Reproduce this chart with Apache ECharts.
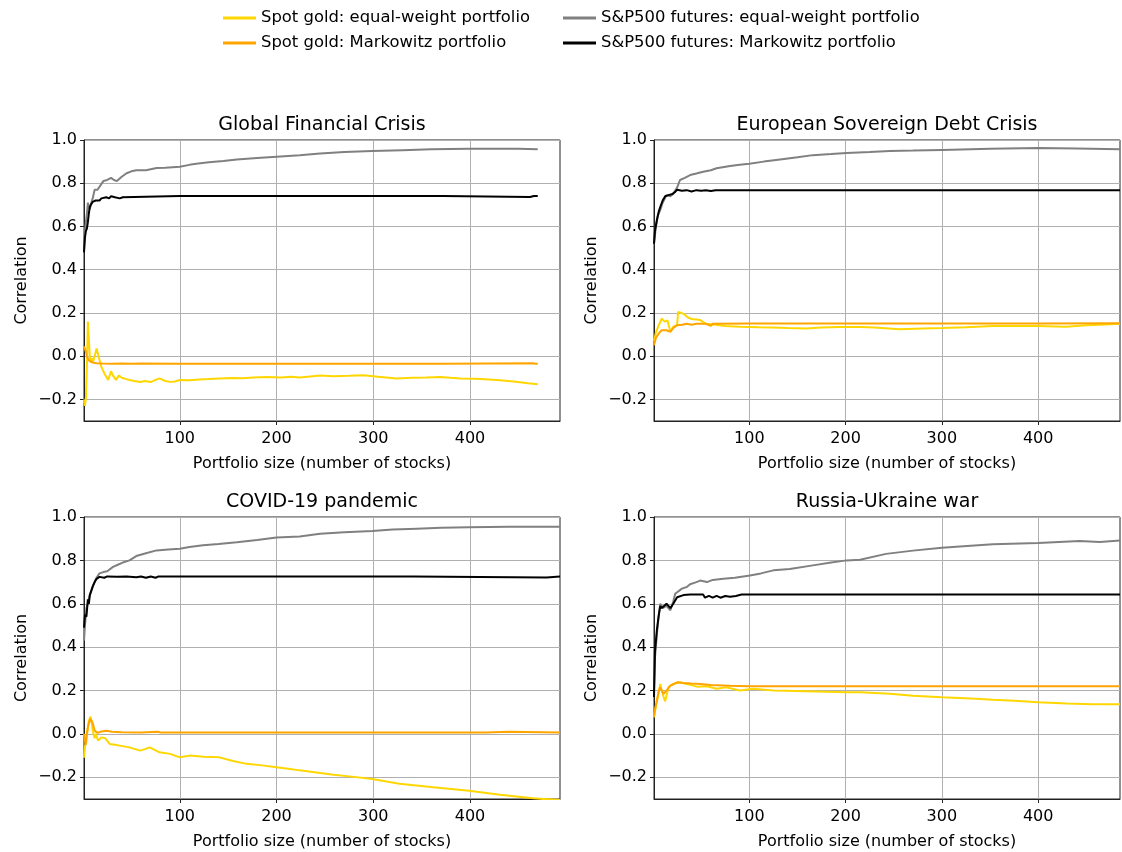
<!DOCTYPE html>
<html>
<head>
<meta charset="utf-8">
<script src="https://cdn.jsdelivr.net/npm/echarts@6/dist/echarts.min.js"></script>
<style>
html,body{margin:0;padding:0;background:#fff;}
#chart{width:1122px;height:852px;}
</style>
</head>
<body>
<div id="chart"></div>
<script>
// ---------- labels ----------
const panelTitles = ['Global Financial Crisis', 'European Sovereign Debt Crisis', 'COVID-19 pandemic', 'Russia-Ukraine war'];
const seriesNames = ['Spot gold: equal-weight portfolio', 'Spot gold: Markowitz portfolio', 'S&P500 futures: equal-weight portfolio', 'S&P500 futures: Markowitz portfolio'];
const seriesColors = ['#FFD700', '#FFA500', '#808080', '#000000'];
const xTicks = [100, 200, 300, 400];
const yTicks = [-0.2, 0.0, 0.2, 0.4, 0.6, 0.8, 1.0];
const xLabel = 'Portfolio size (number of stocks)';
const yLabel = 'Correlation';

// ---------- Global Financial Crisis ----------
const gfcGoldEW = [[1,-0.2],[2,-0.23],[3,-0.19],[4,-0.05],[5,0.16],[6,0.08],[7,0.0],[8,-0.03],[9,-0.01],[10,-0.03],[12,0.0],[14,0.035],[16,0.0],[19,-0.05],[22,-0.08],[26,-0.11],[29,-0.07],[31,-0.09],[34,-0.11],[37,-0.09],[40,-0.1],[44,-0.105],[48,-0.11],[53,-0.115],[59,-0.12],[64,-0.115],[70,-0.12],[75,-0.11],[79,-0.103],[85,-0.115],[90,-0.119],[95,-0.117],[100,-0.11],[110,-0.112],[120,-0.108],[130,-0.106],[141,-0.103],[155,-0.101],[165,-0.102],[176,-0.099],[190,-0.097],[205,-0.099],[215,-0.095],[224,-0.099],[235,-0.094],[245,-0.09],[259,-0.093],[275,-0.091],[290,-0.088],[305,-0.095],[324,-0.103],[340,-0.1],[355,-0.099],[369,-0.096],[380,-0.1],[390,-0.103],[405,-0.104],[420,-0.108],[431,-0.111],[445,-0.117],[460,-0.125],[470,-0.13]];
const gfcGoldMV = [[1,0.045],[2,0.04],[3,0.02],[4,0.0],[5,-0.01],[6,-0.02],[8,-0.026],[10,-0.03],[14,-0.033],[20,-0.034],[30,-0.035],[40,-0.034],[50,-0.035],[60,-0.034],[100,-0.035],[200,-0.035],[300,-0.035],[373,-0.035],[375,-0.033],[465,-0.033],[468,-0.035],[470,-0.035]];
const gfcSpEW = [[1,0.5],[2,0.58],[3,0.62],[4,0.66],[5,0.71],[6,0.69],[7,0.68],[8,0.7],[10,0.73],[12,0.77],[15,0.77],[18,0.79],[21,0.81],[25,0.815],[29,0.825],[32,0.815],[35,0.81],[40,0.83],[45,0.846],[50,0.855],[55,0.86],[65,0.86],[70,0.865],[76,0.87],[85,0.872],[100,0.876],[110,0.885],[117,0.89],[130,0.897],[145,0.903],[159,0.91],[180,0.917],[200,0.923],[224,0.93],[245,0.938],[270,0.944],[299,0.949],[330,0.953],[360,0.957],[399,0.96],[430,0.96],[450,0.959],[470,0.957]];
const gfcSpMV = [[1,0.48],[2,0.55],[3,0.58],[4,0.59],[5,0.62],[6,0.66],[7,0.69],[8,0.7],[10,0.714],[13,0.72],[17,0.72],[19,0.73],[21,0.728],[24,0.735],[27,0.73],[29,0.74],[33,0.735],[38,0.73],[41,0.735],[43,0.741],[100,0.741],[200,0.741],[300,0.741],[372,0.741],[374,0.736],[462,0.736],[466,0.741],[470,0.741]];

// ---------- European Sovereign Debt Crisis ----------
const esdcGoldEW = [[1,0.07],[3,0.11],[6,0.143],[9,0.174],[12,0.16],[15,0.165],[17,0.13],[18,0.113],[21,0.136],[25,0.143],[26,0.205],[29,0.2],[32,0.195],[36,0.18],[40,0.172],[45,0.17],[49,0.167],[55,0.15],[65,0.145],[75,0.14],[90,0.136],[110,0.134],[124,0.133],[140,0.13],[159,0.128],[175,0.132],[194,0.135],[215,0.135],[230,0.132],[256,0.125],[280,0.128],[300,0.13],[325,0.134],[353,0.14],[380,0.14],[400,0.14],[429,0.136],[450,0.143],[470,0.147],[485,0.15]];
const esdcGoldMV = [[1,0.05],[3,0.085],[6,0.105],[9,0.12],[11,0.125],[14,0.12],[18,0.113],[21,0.13],[25,0.143],[30,0.145],[35,0.15],[40,0.145],[45,0.15],[55,0.15],[60,0.14],[62,0.15],[100,0.151],[200,0.151],[300,0.151],[400,0.151],[485,0.152]];
const esdcSpEW = [[1,0.52],[3,0.6],[5,0.65],[7.5,0.676],[10,0.71],[14,0.745],[18,0.74],[21,0.75],[25,0.78],[28,0.815],[33,0.825],[38.5,0.838],[45,0.845],[52,0.853],[60,0.86],[66,0.869],[80,0.88],[90,0.885],[100,0.89],[115,0.9],[132,0.91],[150,0.92],[166,0.93],[185,0.935],[201,0.94],[225,0.944],[246,0.949],[270,0.951],[300,0.954],[350,0.959],[400,0.963],[440,0.961],[485,0.957]];
const esdcSpMV = [[1,0.52],[2,0.58],[4,0.63],[6,0.67],[7.5,0.69],[10,0.72],[12.6,0.74],[16,0.745],[20,0.75],[23,0.76],[25,0.77],[30,0.765],[35,0.768],[40,0.762],[45,0.768],[50,0.765],[55,0.768],[60,0.764],[65,0.768],[485,0.768]];

// ---------- COVID-19 pandemic ----------
const covGoldEW = [[1,-0.11],[2,-0.06],[3.5,-0.015],[5,0.03],[6,0.06],[7.6,0.08],[9,0.05],[10,0.015],[12,-0.02],[13,0.0],[15.5,-0.03],[19,-0.016],[23,-0.02],[27.6,-0.046],[33,-0.05],[38,-0.054],[48,-0.062],[59,-0.077],[64,-0.07],[69,-0.062],[79,-0.085],[90,-0.092],[100,-0.108],[110,-0.1],[125,-0.105],[141,-0.108],[155,-0.125],[169,-0.138],[185,-0.145],[200,-0.154],[214,-0.162],[224,-0.168],[245,-0.18],[259,-0.188],[280,-0.198],[299,-0.208],[327,-0.23],[362,-0.246],[399,-0.262],[431,-0.28],[465,-0.297],[493,-0.305]];
const covGoldMV = [[1,0.0],[2,-0.03],[3,-0.05],[4,0.0],[5,0.03],[6,0.05],[7.6,0.07],[9,0.077],[10,0.05],[12,0.015],[15,0.005],[18,0.01],[24,0.015],[30,0.01],[40,0.008],[60,0.007],[77,0.01],[80,0.007],[200,0.006],[300,0.006],[416,0.006],[418,0.01],[440,0.01],[442,0.006],[493,0.006]];
const covSpEW = [[1,0.43],[2,0.5],[3.5,0.58],[5,0.6],[7,0.64],[8.7,0.66],[11,0.69],[14,0.72],[17,0.74],[21,0.746],[25,0.75],[31,0.77],[36,0.78],[41,0.79],[48,0.8],[55,0.82],[65,0.833],[76,0.846],[88,0.85],[100,0.854],[110,0.862],[124,0.87],[140,0.876],[159,0.884],[180,0.894],[200,0.905],[224,0.91],[245,0.923],[270,0.93],[299,0.935],[320,0.942],[345,0.946],[370,0.95],[399,0.953],[440,0.955],[493,0.955]];
const covSpMV = [[1,0.49],[2,0.55],[3.5,0.54],[5,0.62],[6,0.6],[7,0.64],[9,0.64],[10,0.68],[12,0.7],[14,0.715],[17,0.724],[19,0.726],[22,0.72],[25,0.726],[35,0.724],[45,0.726],[55,0.722],[60,0.726],[65,0.72],[70,0.726],[75,0.72],[78,0.726],[341,0.726],[343,0.721],[479,0.721],[481,0.726],[493,0.726]];

// ---------- Russia-Ukraine war ----------
const ruGoldEW = [[1,0.077],[3,0.13],[5.7,0.185],[7.5,0.23],[9,0.2],[11,0.17],[12.6,0.15],[16,0.215],[21,0.23],[28,0.238],[35,0.23],[40,0.225],[45.5,0.218],[56,0.22],[66,0.208],[76,0.215],[90,0.2],[104,0.208],[125,0.2],[159,0.197],[201,0.192],[215,0.192],[246,0.185],[270,0.176],[300,0.169],[330,0.163],[353,0.157],[380,0.152],[400,0.146],[430,0.14],[456,0.137],[485,0.137]];
const ruGoldMV = [[1,0.08],[2,0.11],[4,0.154],[6,0.2],[7.5,0.215],[9,0.2],[11,0.185],[14,0.2],[18,0.223],[25,0.238],[31.6,0.235],[40,0.232],[49,0.23],[60,0.225],[80,0.222],[100,0.22],[485,0.22]];
const ruSpEW = [[1,0.2],[2,0.35],[4,0.46],[6,0.55],[7.5,0.6],[10,0.58],[14,0.59],[18,0.57],[21,0.61],[23,0.646],[30,0.67],[35,0.677],[38.5,0.69],[45,0.7],[49,0.707],[56,0.7],[62,0.71],[73,0.715],[85,0.72],[100.7,0.73],[112,0.74],[125,0.754],[142,0.76],[166,0.777],[185,0.79],[201,0.8],[215,0.803],[242,0.83],[270,0.845],[300,0.858],[330,0.868],[353,0.874],[400,0.88],[443,0.889],[464,0.885],[485,0.892]];
const ruSpMV = [[1,0.17],[2,0.38],[4,0.48],[5.7,0.54],[7.5,0.59],[9,0.58],[11,0.58],[14,0.6],[16,0.59],[18,0.58],[21,0.6],[25,0.63],[31.6,0.64],[38.6,0.643],[52,0.643],[54,0.628],[58,0.636],[62,0.628],[66,0.636],[70,0.628],[75,0.636],[80,0.632],[86,0.636],[92,0.643],[485,0.643]];

const panelData = [
  [gfcGoldEW, gfcGoldMV, gfcSpEW, gfcSpMV],
  [esdcGoldEW, esdcGoldMV, esdcSpEW, esdcSpMV],
  [covGoldEW, covGoldMV, covSpEW, covSpMV],
  [ruGoldEW, ruGoldMV, ruSpEW, ruSpMV]
];
const xMax = [493, 485, 493, 485];

// ---------- layout ----------
const FONT = 'DejaVu Sans';
const grids = [
  {left: 84, top: 140, width: 476, height: 281},
  {left: 654, top: 140, width: 466, height: 281},
  {left: 84, top: 517, width: 476, height: 282},
  {left: 654, top: 517, width: 466, height: 282}
];

const fmtY = v => (v < 0 ? '\u2212' : '') + Math.abs(v).toFixed(1);

const legendCommon = {orient: 'vertical', top: 10, padding: 0, itemGap: 9,
  icon: 'rect', itemWidth: 33, itemHeight: 3,
  textStyle: {fontFamily: FONT, fontSize: 16.4, color: '#000'}};

const option = {
  animation: false,
  backgroundColor: '#fff',
  textStyle: {fontFamily: FONT},
  title: grids.map((g, i) => ({
    text: panelTitles[i],
    left: g.left + g.width / 2,
    textAlign: 'center',
    top: g.top - 24,
    padding: 0,
    textStyle: {fontFamily: FONT, fontSize: 19, fontWeight: 'normal', color: '#000'}
  })),
  legend: [
    Object.assign({data: seriesNames.slice(0, 2), left: 223}, legendCommon),
    Object.assign({data: seriesNames.slice(2, 4), left: 563}, legendCommon)
  ],
  grid: grids.map(g => Object.assign({show: true, borderColor: '#222', borderWidth: 1, backgroundColor: 'transparent'}, g)),
  xAxis: grids.map((g, i) => ({
    type: 'value', gridIndex: i, min: 1, max: xMax[i],
    name: xLabel, nameLocation: 'middle', nameGap: 35,
    nameTextStyle: {fontFamily: FONT, fontSize: 16, color: '#000'},
    axisLine: {show: true, onZero: false, lineStyle: {color: '#222', width: 1}},
    axisTick: {show: true, length: 4, customValues: xTicks, lineStyle: {color: '#222'}},
    axisLabel: {customValues: xTicks, margin: 10, fontFamily: FONT, fontSize: 16, color: '#000'},
    splitLine: {show: true, lineStyle: {color: '#b0b0b0', width: 1}}
  })),
  yAxis: grids.map((g, i) => ({
    type: 'value', gridIndex: i, min: -0.3, max: 1.0,
    name: yLabel, nameLocation: 'middle', nameGap: 54,
    nameTextStyle: {fontFamily: FONT, fontSize: 16, color: '#000'},
    axisLine: {show: true, onZero: false, lineStyle: {color: '#222', width: 1}},
    axisTick: {show: true, length: 4, customValues: yTicks, lineStyle: {color: '#222'}},
    axisLabel: {customValues: yTicks, margin: 7, fontFamily: FONT, fontSize: 16, color: '#000', formatter: fmtY},
    splitLine: {show: true, lineStyle: {color: '#b0b0b0', width: 1}}
  })),
  series: []
};

panelData.forEach((arrs, p) => {
  arrs.forEach((d, s) => {
    option.series.push({
      type: 'line', name: seriesNames[s], xAxisIndex: p, yAxisIndex: p,
      data: d, showSymbol: false, symbol: 'none', smooth: false,
      lineStyle: {color: seriesColors[s], width: 2},
      itemStyle: {color: seriesColors[s]},
      z: 2 + s
    });
  });
});

const chart = echarts.init(document.getElementById('chart'), null, {renderer: 'canvas'});
chart.setOption(option);
</script>
</body>
</html>
